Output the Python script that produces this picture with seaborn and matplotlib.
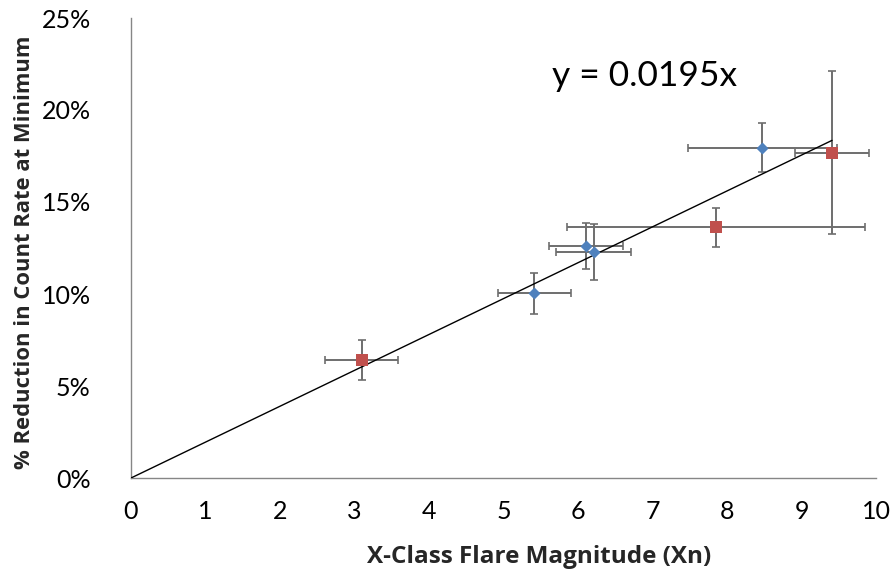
import matplotlib
matplotlib.use("Agg")
import matplotlib.pyplot as plt
import seaborn as sns
import pandas as pd
import numpy as np
from matplotlib.ticker import PercentFormatter

# Data
red_x = [3.10, 7.85, 9.41]
red_y = [6.42, 13.62, 17.68]
red_xerr = [0.49, 2.00, 0.50]
red_yerr = [1.08, 1.04, 4.42]

blue_x = [5.41, 6.11, 6.21, 8.47]
blue_y = [10.04, 12.59, 12.28, 17.95]
blue_xerr = [0.49, 0.50, 0.50, 1.00]
blue_yerr = [1.12, 1.25, 1.50, 1.32]

slope = 0.0195
trend_x = [0.0, 9.41]
x_ticks = list(range(0, 11))
y_ticks = [0, 5, 10, 15, 20, 25]

sns.set_style("white")
plt.rcParams['font.family'] = ['Lato', 'DejaVu Sans']

fig = plt.figure(figsize=(8.94, 5.75), dpi=100)
ax = fig.add_axes([131/894, 1 - 478/575, (876-131)/894, (478-18)/575])

ecol = '#6e6e6e'
ax.errorbar(red_x, red_y, xerr=red_xerr, yerr=red_yerr, fmt='none',
            ecolor=ecol, elinewidth=1.4, capsize=3, capthick=1.2, zorder=2)
ax.errorbar(blue_x, blue_y, xerr=blue_xerr, yerr=blue_yerr, fmt='none',
            ecolor=ecol, elinewidth=1.4, capsize=3, capthick=1.2, zorder=2)

trend_y = [slope * 100 * v for v in trend_x]
ax.plot(trend_x, trend_y, color='black', lw=1.0, zorder=3)

df_red = pd.DataFrame({'x': red_x, 'y': red_y})
df_blue = pd.DataFrame({'x': blue_x, 'y': blue_y})
sns.scatterplot(data=df_blue, x='x', y='y', ax=ax, marker='D', s=38,
                color='#4F81BD', edgecolor='#4F81BD', linewidth=0, zorder=4)
sns.scatterplot(data=df_red, x='x', y='y', ax=ax, marker='s', s=70,
                color='#C0504D', edgecolor='#C0504D', linewidth=0, zorder=4)

ax.set_xlim(0, 10)
ax.set_ylim(0, 25)
ax.set_xticks(x_ticks)
ax.set_yticks(y_ticks)
ax.yaxis.set_major_formatter(PercentFormatter(decimals=0))

for s in ['top', 'right']:
    ax.spines[s].set_visible(False)
for s in ['left', 'bottom']:
    ax.spines[s].set_color('#868686')
    ax.spines[s].set_linewidth(1.0)

ax.tick_params(axis='both', which='major', direction='out', length=7,
               color='#868686', labelsize=18, labelcolor='black', width=1.0)
ax.tick_params(axis='x', pad=9)
ax.tick_params(axis='y', pad=22)

ax.set_xlabel('X-Class Flare Magnitude (Xn)', family=['Open Sans', 'DejaVu Sans'],
              fontsize=17.5, fontweight='bold')
ax.set_ylabel('% Reduction in Count Rate at Minimum', family=['Open Sans', 'DejaVu Sans'],
              fontsize=15.8, fontweight='bold')
ax.xaxis.set_label_coords(0.548, -0.172)
ax.xaxis.label.set_va('center')
ax.yaxis.set_label_coords(-0.143, 0.491)
ax.yaxis.label.set_va('center')
ax.yaxis.label.set_ha('center')

ax.text(5.65, 21.85, 'y = 0.0195x', fontsize=25.5, color='black', ha='left', va='center')

fig.savefig('out.png', dpi=100)
